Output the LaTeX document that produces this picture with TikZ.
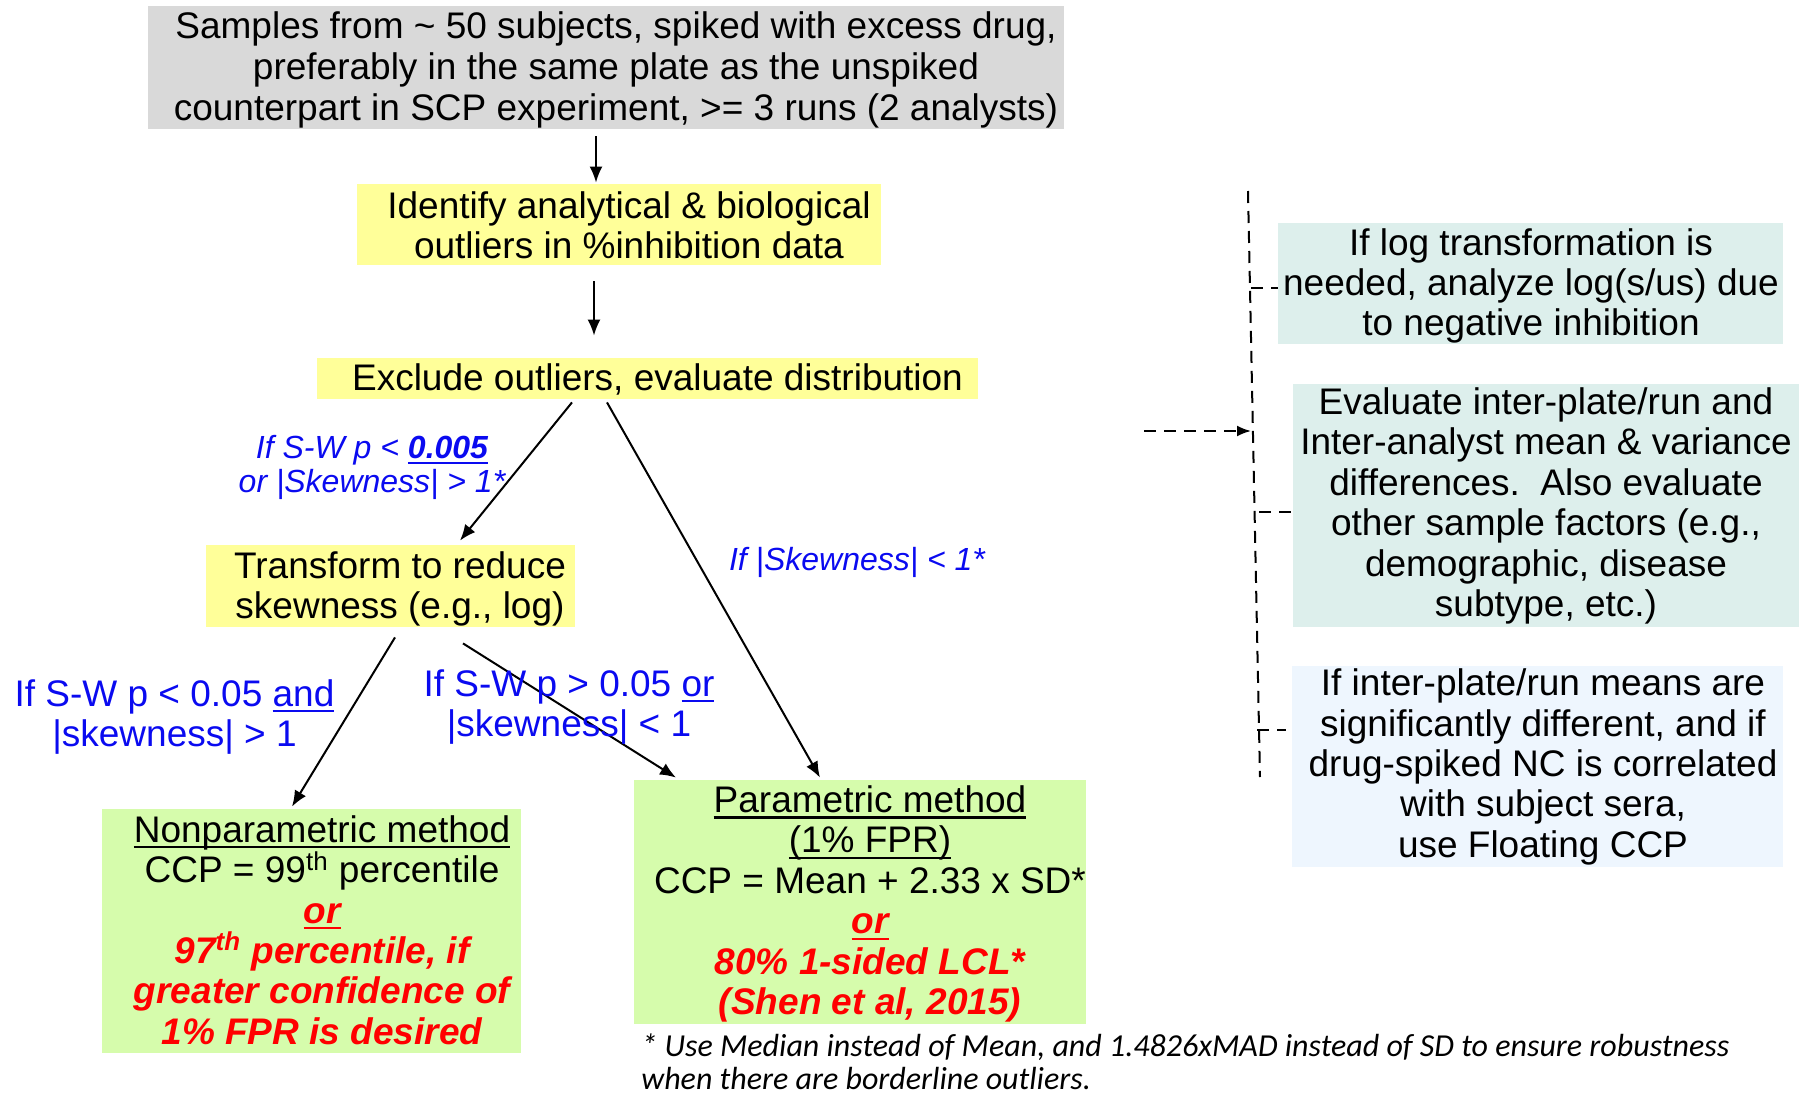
\documentclass[tikz,border=0pt]{standalone}
\usepackage{fontspec}
\setmainfont{Liberation Sans}
\newfontfamily\calib{Carlito}
\newcommand\uln[1]{\setbox0\hbox{#1}\rlap{\rule[-3pt]{\wd0}{1.1pt}}\box0}
\usetikzlibrary{arrows.meta,calc}
\definecolor{graybox}{RGB}{217,217,217}
\definecolor{yel}{RGB}{255,255,153}
\definecolor{grn}{RGB}{214,252,172}
\definecolor{tealbox}{RGB}{221,239,236}
\definecolor{pblue}{RGB}{238,246,254}
\definecolor{lblue}{RGB}{10,10,240}
\definecolor{lred}{RGB}{255,0,0}
\newcommand\bigf{\fontsize{18.5}{20.2}\selectfont}
\newcommand\smallit{\fontsize{16}{17}\selectfont\itshape}
\tikzset{
  bx/.style={fill=#1, inner sep=0pt, draw=none},
  txt/.style={align=center, inner sep=0pt, font=\bigf},
  arr/.style={-{Latex[length=8pt,width=6.5pt]}, line width=1pt},
  dsh/.style={dash pattern=on 6pt off 4pt, line width=1pt},
  lab/.style={align=center, inner sep=0pt, text=lblue}
}
\begin{document}
\begin{tikzpicture}[x=0.5pt,y=-0.5pt]
\useasboundingbox (0,0) rectangle (1812,1098);

% top gray box
\node[bx=graybox, minimum width=458pt, minimum height=61.5pt] (top) at (606,67.5) {};
\node[txt, font=\fontsize{18.5}{20.5}\selectfont] (topt) at (616,70) {Samples from \char`~\ 50 subjects, spiked with excess drug,\\preferably in the same plate as the unspiked\\counterpart in SCP experiment, >= 3 runs (2 analysts)};

% identify
\node[bx=yel, minimum width=262pt, minimum height=40.5pt] (idb) at (619,224.5) {};
\node[txt] (idt) at (629,225) {Identify analytical \& biological\\outliers in \%inhibition data};

% exclude
\node[bx=yel, minimum width=330.5pt, minimum height=20.5pt] (exb) at (647.5,378.5) {};
\node[txt] (ext) at (657.5,379.5) {Exclude outliers, evaluate distribution};

% transform
\node[bx=yel, minimum width=184.5pt, minimum height=41pt] (trb) at (390.5,586) {};
\node[txt] (trt) at (400,589) {Transform to reduce\\skewness (e.g., log)};

% nonparametric
\node[bx=grn, minimum width=209.5pt, minimum height=122pt] (npb) at (311.5,931) {};
\node[txt] (npt) at (322,930) {\uln{Nonparametric method}\\CCP = 99\textsuperscript{th} percentile\\{\color{lred}\bfseries\itshape \uln{or}}\\{\color{lred}\bfseries\itshape 97\textsuperscript{th} percentile, if}\\{\color{lred}\bfseries\itshape greater confidence of}\\{\color{lred}\bfseries\itshape 1\% FPR is desired}};

% parametric
\node[bx=grn, minimum width=226pt, minimum height=122pt] (pab) at (860,902) {};
\node[txt] (pat) at (870,904) {\uln{Parametric method}\\\uln{(1\% FPR)}\\CCP = Mean + 2.33 x SD*\\{\color{lred}\bfseries\itshape \uln{or}}\\{\color{lred}\bfseries\itshape 80\% 1-sided LCL*}\\{\color{lred}\bfseries\itshape (Shen et al, 2015)}};

% right boxes
\node[bx=tealbox, minimum width=252.5pt, minimum height=60.5pt] (bxa) at (1530.5,283.5) {};
\node[txt] (bxat) at (1531,286) {If log transformation is\\needed, analyze log(s/us) due\\to negative inhibition};
\node[bx=tealbox, minimum width=253pt, minimum height=121.5pt] (bxb) at (1546,505.5) {};
\node[txt] (bxbt) at (1546,506) {Evaluate inter-plate/run and\\Inter-analyst mean \& variance\\differences.\ \ Also evaluate\\other sample factors (e.g.,\\demographic, disease\\subtype, etc.)};
\node[bx=pblue, minimum width=245.5pt, minimum height=100.5pt] (bxc) at (1537.5,766.5) {};
\node[txt] (bxct) at (1543,767) {If inter-plate/run means are\\significantly different, and if\\drug-spiked NC is correlated\\with subject sera,\\use Floating CCP};

% arrows
\draw[arr] ($(top.south)+(-10,7)$) -- ($(idb.north)+(-23,-1)$);
\draw[arr] ($(idb.south)+(-25,16)$) -- ($(exb.north)+(-53.5,-22)$);
\draw[arr] ($(exb.south)+(-75.5,3)$) -- ($(trb.north)+(69.5,-4)$);
\draw[arr] ($(exb.south)+(-40.5,3)$) -- ($(pab.north)+(-40,-2)$);
\draw[arr] ($(trb.south)+(4.5,10)$) -- ($(npb.north)+(-19.5,-2)$);
\draw[arr] ($(trb.south)+(72.5,16)$) -- ($(pab.north)+(-184,-2)$);

% labels
\node[lab, font=\smallit] (l1) at (372,467) {If S-W p < \textbf{\uln{0.005}}\\or |Skewness| > 1*};
\node[lab, font=\smallit] (l2) at (857,562) {If |Skewness| < 1*};
\node[lab, font=\bigf] (l3) at (174.5,717) {If S-W p < 0.05 \uln{and}\\|skewness| > 1};
\node[lab, font=\bigf] (l4) at (569,707) {If S-W p > 0.05 \uln{or}\\|skewness| < 1};

% footnote
\node[anchor=north west, align=left, inner sep=0pt, font=\calib\itshape\fontsize{16}{16.8}\selectfont] (fn) at (641,1033) {* Use Median instead of Mean, and 1.4826xMAD instead of SD to ensure robustness\\when there are borderline outliers.};

% dashed bracket
\coordinate (vt) at (1248,191);
\coordinate (vb) at (1260,777);
\coordinate (din) at (1144,431);
\coordinate (dend) at (1251,431);
\coordinate (ta) at (1251,288);
\coordinate (tb) at (1259,512);
\coordinate (tc) at (1257,730);
\draw[dsh] (vt) -- (vb);
\draw[dsh, -{Latex[length=7pt,width=5.5pt]}] (din) -- (dend);
\draw[dsh] (ta) -- (ta -| bxa.west);
\draw[dsh] (tb) -- (tb -| bxb.west);
\draw[dsh] (tc) -- ($(tc -| bxc.west)+(-6,0)$);
\end{tikzpicture}
\end{document}
